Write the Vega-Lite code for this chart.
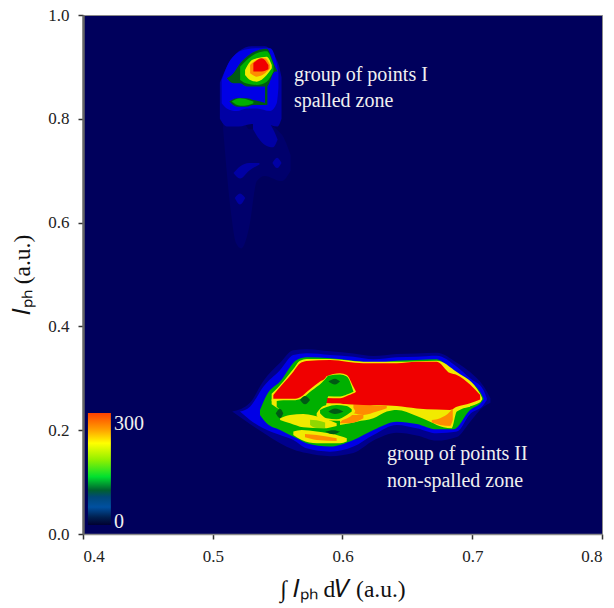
{"$schema":"https://vega.github.io/schema/vega-lite/v6.json","autosize":"none","width":519,"height":519,"padding":{"left":83,"top":15,"right":12,"bottom":74},"background":"white","config":{"view":{"fill":"#00005c","stroke":"#8a8a8a","strokeWidth":1},"font":"Liberation Serif"},
"datasets":{
"blobs":[
{"s":"a00","l":"tail","x":0.508,"t":0.80,"b":0.78},{"s":"a00","l":"tail","x":0.514,"t":0.80,"b":0.62},{"s":"a00","l":"tail","x":0.518,"t":0.80,"b":0.56},{"s":"a00","l":"tail","x":0.522,"t":0.80,"b":0.55},{"s":"a00","l":"tail","x":0.528,"t":0.78,"b":0.59},{"s":"a00","l":"tail","x":0.534,"t":0.78,"b":0.68},{"s":"a00","l":"tail","x":0.54,"t":0.79,"b":0.69},{"s":"a00","l":"tail","x":0.553,"t":0.77,"b":0.68},{"s":"a00","l":"tail","x":0.56,"t":0.73,"b":0.70},
{"s":"a011","l":"mid","x":0.516,"t":0.6956,"b":0.6956},{"s":"a011","l":"mid","x":0.521,"t":0.708,"b":0.685},{"s":"a011","l":"mid","x":0.528,"t":0.715,"b":0.70},{"s":"a011","l":"mid","x":0.536,"t":0.715,"b":0.712},
{"s":"a012","l":"mid","x":0.517,"t":0.6474,"b":0.6474},{"s":"a012","l":"mid","x":0.521,"t":0.656,"b":0.635},{"s":"a012","l":"mid","x":0.525,"t":0.6474,"b":0.6474},
{"s":"a013","l":"mid","x":0.546,"t":0.7148,"b":0.7148},{"s":"a013","l":"mid","x":0.5496,"t":0.725,"b":0.705},{"s":"a013","l":"mid","x":0.553,"t":0.7148,"b":0.7148},
{"s":"a014","l":"mid","x":0.531,"t":0.80,"b":0.78},{"s":"a014","l":"mid","x":0.54,"t":0.80,"b":0.75},{"s":"a014","l":"mid","x":0.5465,"t":0.78,"b":0.745},{"s":"a014","l":"mid","x":0.55,"t":0.76,"b":0.76},
{"s":"a015","l":"mid","x":0.5055,"t":0.87,"b":0.80},{"s":"a015","l":"mid","x":0.5108,"t":0.90,"b":0.785},{"s":"a015","l":"mid","x":0.52,"t":0.93,"b":0.785},{"s":"a015","l":"mid","x":0.53,"t":0.94,"b":0.79},{"s":"a015","l":"mid","x":0.54,"t":0.94,"b":0.79},{"s":"a015","l":"mid","x":0.55,"t":0.91,"b":0.785},{"s":"a015","l":"mid","x":0.553,"t":0.88,"b":0.80},
{"s":"a02","l":"blue","x":0.5069,"t":0.8748,"b":0.83},{"s":"a02","l":"blue","x":0.5108,"t":0.9005,"b":0.82},{"s":"a02","l":"blue","x":0.5185,"t":0.9262,"b":0.815},{"s":"a02","l":"blue","x":0.5262,"t":0.9339,"b":0.82},{"s":"a02","l":"blue","x":0.5339,"t":0.9358,"b":0.82},{"s":"a02","l":"blue","x":0.5442,"t":0.9358,"b":0.815},{"s":"a02","l":"blue","x":0.5493,"t":0.9069,"b":0.83},{"s":"a02","l":"blue","x":0.5506,"t":0.8876,"b":0.86},
{"s":"a03","l":"dark","x":0.5108,"t":0.878,"b":0.878},{"s":"a03","l":"dark","x":0.5159,"t":0.8876,"b":0.8684},{"s":"a03","l":"dark","x":0.5211,"t":0.9069,"b":0.8684},{"s":"a03","l":"dark","x":0.5262,"t":0.9197,"b":0.862},{"s":"a03","l":"dark","x":0.5339,"t":0.9313,"b":0.862},{"s":"a03","l":"dark","x":0.5416,"t":0.935,"b":0.862},{"s":"a03","l":"dark","x":0.548,"t":0.9005,"b":0.8909},{"s":"a03","l":"dark","x":0.55,"t":0.8909,"b":0.8909},
{"s":"a04","l":"green","x":0.5211,"t":0.9005,"b":0.875},{"s":"a04","l":"green","x":0.5262,"t":0.9133,"b":0.868},{"s":"a04","l":"green","x":0.5339,"t":0.9262,"b":0.8652},{"s":"a04","l":"green","x":0.5416,"t":0.93,"b":0.8716},{"s":"a04","l":"green","x":0.5468,"t":0.9037,"b":0.8909},
{"s":"a05","l":"yellow","x":0.5249,"t":0.8941,"b":0.8844},{"s":"a05","l":"yellow","x":0.5288,"t":0.9101,"b":0.8748},{"s":"a05","l":"yellow","x":0.5339,"t":0.9165,"b":0.8716},{"s":"a05","l":"yellow","x":0.5416,"t":0.9197,"b":0.8844},{"s":"a05","l":"yellow","x":0.5455,"t":0.9037,"b":0.8973},
{"s":"a06","l":"orange","x":0.5288,"t":0.9037,"b":0.8876},{"s":"a06","l":"orange","x":0.5339,"t":0.9133,"b":0.8812},{"s":"a06","l":"orange","x":0.5403,"t":0.9165,"b":0.8876},{"s":"a06","l":"orange","x":0.5442,"t":0.9037,"b":0.8973},
{"s":"a07","l":"red","x":0.5313,"t":0.9069,"b":0.8909},{"s":"a07","l":"red","x":0.5378,"t":0.9165,"b":0.8909},{"s":"a07","l":"red","x":0.5429,"t":0.9037,"b":0.8953},
{"s":"a08","l":"dark","x":0.5403,"t":0.8684,"b":0.8267},{"s":"a08","l":"dark","x":0.5421,"t":0.8684,"b":0.8267},
{"s":"a09","l":"dark","x":0.5128,"t":0.8331,"b":0.8331},{"s":"a09","l":"dark","x":0.5185,"t":0.8395,"b":0.8234},{"s":"a09","l":"dark","x":0.5262,"t":0.8395,"b":0.8234},{"s":"a09","l":"dark","x":0.5313,"t":0.8363,"b":0.8267},{"s":"a09","l":"dark","x":0.5411,"t":0.8299,"b":0.8267},
{"s":"a10","l":"green","x":0.5146,"t":0.8331,"b":0.8331},{"s":"a10","l":"green","x":0.5211,"t":0.8395,"b":0.825},{"s":"a10","l":"green","x":0.5275,"t":0.8363,"b":0.8267},{"s":"a10","l":"green","x":0.5313,"t":0.8331,"b":0.8299},
{"s":"b01","l":"faint","x":0.515,"t":0.2358,"b":0.2358},{"s":"b01","l":"faint","x":0.5287,"t":0.253,"b":0.212},{"s":"b01","l":"faint","x":0.539,"t":0.295,"b":0.195},{"s":"b01","l":"faint","x":0.5519,"t":0.33,"b":0.175},{"s":"b01","l":"faint","x":0.5621,"t":0.354,"b":0.163},{"s":"b01","l":"faint","x":0.5724,"t":0.356,"b":0.156},{"s":"b01","l":"faint","x":0.5904,"t":0.352,"b":0.15},{"s":"b01","l":"faint","x":0.6084,"t":0.348,"b":0.156},{"s":"b01","l":"faint","x":0.6238,"t":0.343,"b":0.18},{"s":"b01","l":"faint","x":0.6418,"t":0.347,"b":0.195},{"s":"b01","l":"faint","x":0.6572,"t":0.348,"b":0.19},{"s":"b01","l":"faint","x":0.6726,"t":0.349,"b":0.18},{"s":"b01","l":"faint","x":0.6881,"t":0.33,"b":0.187},{"s":"b01","l":"faint","x":0.6983,"t":0.312,"b":0.216},{"s":"b01","l":"faint","x":0.7086,"t":0.285,"b":0.245},{"s":"b01","l":"faint","x":0.714,"t":0.2615,"b":0.253},
{"s":"b02","l":"blue","x":0.521,"t":0.2358,"b":0.2358},{"s":"b02","l":"blue","x":0.5287,"t":0.2454,"b":0.2197},{"s":"b02","l":"blue","x":0.539,"t":0.2839,"b":0.2037},{"s":"b02","l":"blue","x":0.5519,"t":0.316,"b":0.1908},{"s":"b02","l":"blue","x":0.5621,"t":0.3449,"b":0.1812},{"s":"b02","l":"blue","x":0.5724,"t":0.3481,"b":0.1651},{"s":"b02","l":"blue","x":0.5904,"t":0.3449,"b":0.1587},{"s":"b02","l":"blue","x":0.6084,"t":0.3417,"b":0.1684},{"s":"b02","l":"blue","x":0.6238,"t":0.3366,"b":0.1908},{"s":"b02","l":"blue","x":0.6418,"t":0.3404,"b":0.2101},{"s":"b02","l":"blue","x":0.6572,"t":0.3417,"b":0.2037},{"s":"b02","l":"blue","x":0.6726,"t":0.3436,"b":0.194},{"s":"b02","l":"blue","x":0.6881,"t":0.3224,"b":0.1973},{"s":"b02","l":"blue","x":0.6983,"t":0.3,"b":0.2313},{"s":"b02","l":"blue","x":0.7086,"t":0.2775,"b":0.2486},{"s":"b02","l":"blue","x":0.7112,"t":0.2615,"b":0.2582},
{"s":"b03","l":"green","x":0.5364,"t":0.239,"b":0.2294},{"s":"b03","l":"green","x":0.5416,"t":0.2679,"b":0.2133},{"s":"b03","l":"green","x":0.5519,"t":0.2936,"b":0.2005},{"s":"b03","l":"green","x":0.5647,"t":0.3353,"b":0.1844},{"s":"b03","l":"green","x":0.5724,"t":0.3404,"b":0.1748},{"s":"b03","l":"green","x":0.5904,"t":0.3385,"b":0.1684},{"s":"b03","l":"green","x":0.6084,"t":0.334,"b":0.1812},{"s":"b03","l":"green","x":0.6238,"t":0.3301,"b":0.2005},{"s":"b03","l":"green","x":0.6418,"t":0.334,"b":0.2165},{"s":"b03","l":"green","x":0.6572,"t":0.3353,"b":0.212},{"s":"b03","l":"green","x":0.6726,"t":0.3366,"b":0.2017},{"s":"b03","l":"green","x":0.6855,"t":0.3128,"b":0.2017},{"s":"b03","l":"green","x":0.6983,"t":0.2936,"b":0.239},{"s":"b03","l":"green","x":0.7073,"t":0.2679,"b":0.255},{"s":"b03","l":"green","x":0.7086,"t":0.2615,"b":0.2595},
{"s":"b04","l":"yellow","x":0.5454,"t":0.27,"b":0.256},{"s":"b04","l":"yellow","x":0.5544,"t":0.294,"b":0.256},{"s":"b04","l":"yellow","x":0.5621,"t":0.318,"b":0.256},{"s":"b04","l":"yellow","x":0.5673,"t":0.334,"b":0.256},{"s":"b04","l":"yellow","x":0.5724,"t":0.337,"b":0.25},{"s":"b04","l":"yellow","x":0.5904,"t":0.337,"b":0.245},{"s":"b04","l":"yellow","x":0.6161,"t":0.332,"b":0.238},{"s":"b04","l":"yellow","x":0.6418,"t":0.332,"b":0.24},{"s":"b04","l":"yellow","x":0.6726,"t":0.334,"b":0.235},{"s":"b04","l":"yellow","x":0.6881,"t":0.312,"b":0.241},{"s":"b04","l":"yellow","x":0.7061,"t":0.27,"b":0.254},{"s":"b04","l":"yellow","x":0.7076,"t":0.262,"b":0.259},
{"s":"b05","l":"yellow","x":0.5981,"t":0.2518,"b":0.2101},{"s":"b05","l":"yellow","x":0.611,"t":0.2518,"b":0.2165},{"s":"b05","l":"yellow","x":0.6238,"t":0.2518,"b":0.2229},{"s":"b05","l":"yellow","x":0.6341,"t":0.2518,"b":0.2358},{"s":"b05","l":"yellow","x":0.6418,"t":0.2518,"b":0.239},{"s":"b05","l":"yellow","x":0.6572,"t":0.2518,"b":0.2274},{"s":"b05","l":"yellow","x":0.6675,"t":0.2518,"b":0.2165},{"s":"b05","l":"yellow","x":0.6778,"t":0.2518,"b":0.2056},{"s":"b05","l":"yellow","x":0.6842,"t":0.2518,"b":0.2037},{"s":"b05","l":"yellow","x":0.6881,"t":0.2518,"b":0.2358},{"s":"b05","l":"yellow","x":0.6983,"t":0.2582,"b":0.2454},
{"s":"b06","l":"orange","x":0.6084,"t":0.25,"b":0.2326},{"s":"b06","l":"orange","x":0.6161,"t":0.25,"b":0.2294},{"s":"b06","l":"orange","x":0.6264,"t":0.2467,"b":0.2358},{"s":"b06","l":"orange","x":0.6341,"t":0.2467,"b":0.2422},
{"s":"b07","l":"orange","x":0.6688,"t":0.2197,"b":0.2146},{"s":"b07","l":"orange","x":0.6752,"t":0.2229,"b":0.2101},{"s":"b07","l":"orange","x":0.6829,"t":0.2358,"b":0.2082},{"s":"b07","l":"orange","x":0.685,"t":0.2422,"b":0.2197},
{"s":"b08","l":"orange","x":0.5981,"t":0.2146,"b":0.2133},{"s":"b08","l":"orange","x":0.6058,"t":0.2294,"b":0.2133},{"s":"b08","l":"orange","x":0.6161,"t":0.2294,"b":0.2229},
{"s":"b09","l":"red","x":0.5467,"t":0.2679,"b":0.2608},{"s":"b09","l":"red","x":0.5544,"t":0.2903,"b":0.2608},{"s":"b09","l":"red","x":0.5621,"t":0.3128,"b":0.2608},{"s":"b09","l":"red","x":0.5673,"t":0.3289,"b":0.2608},{"s":"b09","l":"red","x":0.5724,"t":0.3334,"b":0.256},{"s":"b09","l":"red","x":0.5904,"t":0.3353,"b":0.2518},{"s":"b09","l":"red","x":0.6161,"t":0.3289,"b":0.2486},{"s":"b09","l":"red","x":0.6418,"t":0.3289,"b":0.2467},{"s":"b09","l":"red","x":0.6572,"t":0.332,"b":0.242},{"s":"b09","l":"red","x":0.6726,"t":0.3321,"b":0.24},{"s":"b09","l":"red","x":0.6829,"t":0.31,"b":0.239},{"s":"b09","l":"red","x":0.6881,"t":0.3064,"b":0.245},{"s":"b09","l":"red","x":0.6983,"t":0.288,"b":0.252},{"s":"b09","l":"red","x":0.7061,"t":0.2679,"b":0.259},
{"s":"b10","l":"yellow","x":0.5454,"t":0.2595,"b":0.25},{"s":"b10","l":"yellow","x":0.5544,"t":0.2595,"b":0.239},{"s":"b10","l":"yellow","x":0.5621,"t":0.2595,"b":0.239},{"s":"b10","l":"yellow","x":0.5673,"t":0.2634,"b":0.239},{"s":"b10","l":"yellow","x":0.575,"t":0.2788,"b":0.239},{"s":"b10","l":"yellow","x":0.5827,"t":0.2936,"b":0.239},{"s":"b10","l":"yellow","x":0.5866,"t":0.3,"b":0.239},{"s":"b10","l":"yellow","x":0.5878,"t":0.304,"b":0.262},{"s":"b10","l":"yellow","x":0.5981,"t":0.3096,"b":0.2615},{"s":"b10","l":"yellow","x":0.6033,"t":0.3064,"b":0.266},{"s":"b10","l":"yellow","x":0.6084,"t":0.2839,"b":0.271},{"s":"b10","l":"yellow","x":0.6104,"t":0.2743,"b":0.2743},
{"s":"b11","l":"green","x":0.5493,"t":0.2565,"b":0.245},{"s":"b11","l":"green","x":0.5544,"t":0.2575,"b":0.235},{"s":"b11","l":"green","x":0.5621,"t":0.2575,"b":0.23},{"s":"b11","l":"green","x":0.5686,"t":0.2615,"b":0.23},{"s":"b11","l":"green","x":0.5763,"t":0.2765,"b":0.23},{"s":"b11","l":"green","x":0.584,"t":0.2915,"b":0.23},{"s":"b11","l":"green","x":0.5866,"t":0.298,"b":0.24},{"s":"b11","l":"green","x":0.5891,"t":0.305,"b":0.2655},{"s":"b11","l":"green","x":0.5981,"t":0.3075,"b":0.265},{"s":"b11","l":"green","x":0.6033,"t":0.3035,"b":0.269},{"s":"b11","l":"green","x":0.6085,"t":0.2743,"b":0.2743},
{"s":"b12","l":"yellow","x":0.5801,"t":0.2326,"b":0.227},{"s":"b12","l":"yellow","x":0.5853,"t":0.2465,"b":0.2205},{"s":"b12","l":"yellow","x":0.5955,"t":0.2515,"b":0.218},{"s":"b12","l":"yellow","x":0.6058,"t":0.248,"b":0.226},{"s":"b12","l":"yellow","x":0.6097,"t":0.238,"b":0.235},
{"s":"b13","l":"green","x":0.5827,"t":0.239,"b":0.2326},{"s":"b13","l":"green","x":0.5878,"t":0.2447,"b":0.2229},{"s":"b13","l":"green","x":0.5955,"t":0.2486,"b":0.221},{"s":"b13","l":"green","x":0.6033,"t":0.2466,"b":0.2294},{"s":"b13","l":"green","x":0.6071,"t":0.2402,"b":0.2358},
{"s":"b14","l":"yellow","x":0.5519,"t":0.2229,"b":0.2197},{"s":"b14","l":"yellow","x":0.5596,"t":0.2294,"b":0.2133},{"s":"b14","l":"yellow","x":0.5698,"t":0.2313,"b":0.2056},{"s":"b14","l":"yellow","x":0.5853,"t":0.2229,"b":0.2037},{"s":"b14","l":"yellow","x":0.5955,"t":0.2133,"b":0.2082},
{"s":"b15","l":"lime","x":0.575,"t":0.22,"b":0.21},{"s":"b15","l":"lime","x":0.5801,"t":0.219,"b":0.204},{"s":"b15","l":"lime","x":0.5866,"t":0.215,"b":0.204},
{"s":"b16","l":"yellow","x":0.5621,"t":0.1973,"b":0.1908},{"s":"b16","l":"yellow","x":0.5686,"t":0.2005,"b":0.1812},{"s":"b16","l":"yellow","x":0.5801,"t":0.1973,"b":0.1748},{"s":"b16","l":"yellow","x":0.5981,"t":0.1889,"b":0.1748},{"s":"b16","l":"yellow","x":0.6033,"t":0.1844,"b":0.178},
{"s":"b17","l":"orange","x":0.5711,"t":0.1928,"b":0.1863},{"s":"b17","l":"orange","x":0.5801,"t":0.1908,"b":0.1812},{"s":"b17","l":"orange","x":0.5955,"t":0.1844,"b":0.1793},
{"s":"b18","l":"dark","x":0.5673,"t":0.2582,"b":0.2582},{"s":"b18","l":"dark","x":0.5711,"t":0.266,"b":0.25},{"s":"b18","l":"dark","x":0.575,"t":0.2582,"b":0.2582},
{"s":"b19","l":"dark","x":0.5485,"t":0.2326,"b":0.2326},{"s":"b19","l":"dark","x":0.5519,"t":0.241,"b":0.223},{"s":"b19","l":"dark","x":0.5544,"t":0.2326,"b":0.2326},
{"s":"b20","l":"dark","x":0.5891,"t":0.2936,"b":0.2936},{"s":"b20","l":"dark","x":0.5942,"t":0.299,"b":0.288},{"s":"b20","l":"dark","x":0.5981,"t":0.2936,"b":0.2936},
{"s":"b21","l":"dark","x":0.5891,"t":0.2358,"b":0.2358},{"s":"b21","l":"dark","x":0.5942,"t":0.242,"b":0.231},{"s":"b21","l":"dark","x":0.6007,"t":0.2358,"b":0.2358},
{"s":"b22","l":"dark","x":0.5866,"t":0.1973,"b":0.1973},{"s":"b22","l":"dark","x":0.593,"t":0.2,"b":0.192},{"s":"b22","l":"dark","x":0.5981,"t":0.1973,"b":0.1973}
],
"bar":[{"x":0.4038,"x2":0.4215,"y":0.0173,"y2":0.2333}],
"notes":[
{"x":0.5626,"y":0.8844,"t":"group of points I"},{"x":0.5626,"y":0.8343,"t":"spalled zone"},{"x":0.6343,"y":0.1541,"t":"group of points II"},{"x":0.6343,"y":0.1021,"t":"non-spalled zone"},{"x":0.4239,"y":0.2119,"t":"300"},{"x":0.4239,"y":0.0231,"t":"0"}
]},
"layer":[
{"data":{"name":"blobs"},"mark":{"type":"area","interpolate":"monotone","clip":true},"encoding":{
"x":{"field":"x","type":"quantitative","scale":{"domain":[0.4,0.8],"nice":false,"zero":false},"axis":{"values":[0.4,0.5,0.6,0.7,0.8],"format":".1f","title":"∫ 𝐼ₚₕ d𝑉 (a.u.)","grid":false,"tickSize":5,"tickWidth":1.5,"tickColor":"#333","domainColor":"#8a8a8a","domainWidth":1.5,"labelFont":"Liberation Serif","labelFontSize":17,"labelColor":"#222","labelPadding":9,"titleFont":"Liberation Serif","titleFontSize":23.5,"titleFontWeight":"normal","titleColor":"#111","titlePadding":13}},
"y":{"field":"t","type":"quantitative","scale":{"domain":[0,1],"nice":false},"axis":{"values":[0,0.2,0.4,0.6,0.8,1],"format":".1f","title":"𝐼ₚₕ (a.u.)","grid":false,"tickSize":5,"tickWidth":1.5,"tickColor":"#333","domainColor":"#666","domainWidth":2.5,"labelFont":"Liberation Serif","labelFontSize":17,"labelColor":"#222","labelPadding":9,"titleFont":"Liberation Serif","titleFontSize":23.5,"titleFontWeight":"normal","titleColor":"#111","titlePadding":13}},
"y2":{"field":"b"},
"detail":{"field":"s"},
"color":{"field":"l","type":"nominal","legend":null,"scale":{"domain":["tail","mid","faint","blue","dark","green","lime","yellow","orange","red"],"range":["#00006c","#0000a4","#00008c","#0000e6","#005a14","#00b000","#90d800","#f2ea00","#ff8c00","#f00000"]}}
}},
{"data":{"name":"bar"},"mark":{"type":"rect","fill":{"gradient":"linear","x1":0,"y1":1,"x2":0,"y2":0,"stops":[{"offset":0,"color":"#000030"},{"offset":0.07,"color":"#002050"},{"offset":0.16,"color":"#0050a0"},{"offset":0.25,"color":"#004878"},{"offset":0.31,"color":"#006030"},{"offset":0.43,"color":"#00e030"},{"offset":0.58,"color":"#90f000"},{"offset":0.73,"color":"#ffff00"},{"offset":0.85,"color":"#ffa000"},{"offset":1,"color":"#ff4000"}]}},"encoding":{"x":{"field":"x","type":"quantitative"},"x2":{"field":"x2"},"y":{"field":"y","type":"quantitative"},"y2":{"field":"y2"}}},
{"data":{"name":"notes"},"mark":{"type":"text","align":"left","baseline":"middle","font":"Liberation Serif","fontSize":20,"color":"#f0f0f0"},"encoding":{"x":{"field":"x","type":"quantitative"},"y":{"field":"y","type":"quantitative"},"text":{"field":"t"}}}
]}
